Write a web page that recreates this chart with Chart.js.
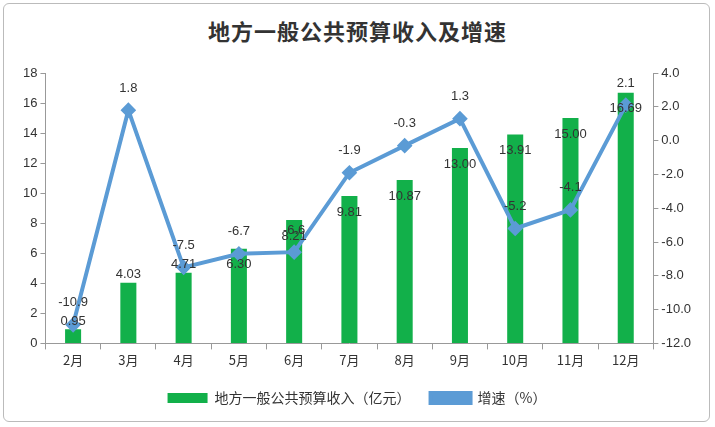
<!DOCTYPE html>
<html>
<head>
<meta charset="utf-8">
<script src="https://cdn.jsdelivr.net/npm/chart.js@4"></script>
<style>
  body { margin: 0; background: #fff; }
  #box { position: absolute; left: 3px; top: 3px; width: 707px; height: 419px; border: 1px solid #bbb; border-radius: 6px; box-sizing: border-box; }
  #title { position: absolute; top: 14px; width: 100%; text-align: center; font: bold 22px "Noto Sans CJK SC"; color: #333; letter-spacing: 1px; }
  #wrap { position: absolute; left: 8px; top: 60px; width: 690px; height: 355px; }
</style>
</head>
<body>
<div id="box"></div>
<div id="title">地方一般公共预算收入及增速</div>
<div id="wrap"><canvas id="c"></canvas></div>
<script>
// months and values
const months = ['2月', '3月', '4月', '5月', '6月', '7月', '8月', '9月', '10月', '11月', '12月'];
const revenue = [0.95, 4.03, 4.71, 6.30, 8.21, 9.81, 10.87, 13.00, 13.91, 15.00, 16.69];
const growth = [-10.9, 1.8, -7.5, -6.7, -6.6, -1.9, -0.3, 1.3, -5.2, -4.1, 2.1];

// draw value labels (no datalabels plugin available)
const labelPlugin = {
  id: 'labels',
  afterDatasetsDraw(chart) {
    const ctx = chart.ctx;
    ctx.save();
    ctx.font = '13px "Liberation Sans"';
    ctx.fillStyle = '#333';
    ctx.textAlign = 'center';
    ctx.textBaseline = 'middle';
    chart.getDatasetMeta(0).data.forEach((bar, i) => {
      const y = revenue[i] < 5 ? bar.y - 8 : bar.y + 16;
      ctx.fillText(revenue[i].toFixed(2), bar.x, y);
    });
    chart.getDatasetMeta(1).data.forEach((pt, i) => {
      ctx.fillText(growth[i].toFixed(1), pt.x, pt.y - 22);
    });
    ctx.restore();
  }
};

new Chart(document.getElementById('c'), {
  data: {
    labels: months,
    datasets: [
      {
        type: 'bar',
        label: '地方一般公共预算收入（亿元）',
        data: revenue,
        backgroundColor: '#12b04a',
        yAxisID: 'y',
        barPercentage: 0.29,
        categoryPercentage: 1,
        order: 2
      },
      {
        type: 'line',
        label: '增速（%）',
        data: growth,
        borderColor: '#5b9bd5',
        backgroundColor: '#5b9bd5',
        borderWidth: 4,
        pointStyle: 'rectRot',
        pointRadius: 5,
        yAxisID: 'y1',
        order: 1
      }
    ]
  },
  options: {
    responsive: true,
    maintainAspectRatio: false,
    animation: false,
    layout: { padding: { top: 13, right: 4, left: 12 } },
    plugins: {
      legend: {
        position: 'bottom',
        labels: {
          font: { size: 14, family: 'Noto Sans CJK SC' }, color: '#333',
          boxWidth: 40, boxHeight: 10, padding: 20,
          sort: (a, b) => a.datasetIndex - b.datasetIndex
        }
      },
      tooltip: { enabled: false }
    },
    scales: {
      x: {
        grid: { drawOnChartArea: false, tickLength: 6, color: '#999' },
        border: { color: '#999' },
        ticks: { font: { size: 13, family: 'Noto Sans CJK SC' }, color: '#333' }
      },
      y: {
        position: 'left',
        min: 0, max: 18,
        ticks: { stepSize: 2, font: { size: 13 }, color: '#333' },
        grid: { drawOnChartArea: false, tickLength: 5, color: '#999' },
        border: { color: '#999' }
      },
      y1: {
        position: 'right',
        min: -12, max: 4,
        ticks: { stepSize: 2, callback: v => v.toFixed(1), font: { size: 13 }, color: '#333' },
        grid: { drawOnChartArea: false, tickLength: 5, color: '#999' },
        border: { color: '#999' }
      }
    }
  },
  plugins: [labelPlugin]
});
</script>
</body>
</html>
